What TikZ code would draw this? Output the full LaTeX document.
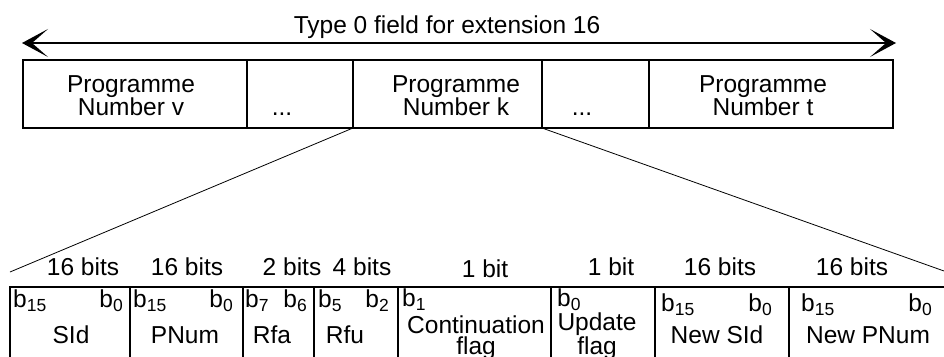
\documentclass[tikz,border=0pt]{standalone}
\usepackage{fontspec}
\setmainfont{Liberation Sans}
\usetikzlibrary{arrows.meta}

% bit number with lowered index
\newcommand\bsub[1]{b\raisebox{-4.5pt}{\fontsize{17.5}{17.5}\selectfont #1}}

\begin{document}
\begin{tikzpicture}[x=1pt, y=-1pt,
    cell/.style={draw, line width=1.8pt, inner sep=0pt, outer sep=0pt, anchor=north west},
    txt/.style={font=\fontsize{24.5}{23}\selectfont, inner sep=0pt, align=center, anchor=base},
    flagtxt/.style={txt, font=\fontsize{24.5}{21}\selectfont},
    span/.style={line width=1.8pt,
        {Stealth[length=26pt, width=28pt, inset=16pt]}-{Stealth[length=26pt, width=28pt, inset=16pt]}},
    fan/.style={line width=0.8pt}]

% Canvas
\useasboundingbox (0,0) rectangle (944,356);
\clip (0,0) rectangle (944,356);

\def\toprow{60}
\def\topht{68}
\def\botrow{287}
\def\botht{100}

% Span arrow with title
\coordinate (spanl) at (22,43);
\coordinate (spanr) at (896,43);
\draw[span] (spanl) -- (spanr);
\node[txt] (title) at (447,33) {Type 0 field for extension 16};

% Top row -- programme number fields
\node[cell, minimum width=224, minimum height=\topht] (pv) at (23,\toprow) {};
\node[cell, minimum width=106, minimum height=\topht] (dv) at (247,\toprow) {};
\node[cell, minimum width=189, minimum height=\topht] (pk) at (353,\toprow) {};
\node[cell, minimum width=107, minimum height=\topht] (dk) at (542,\toprow) {};
\node[cell, minimum width=244, minimum height=\topht] (pt) at (649,\toprow) {};

% (base of a two-line node = its last line)
\node[txt] (pvtxt) at (131,115) {Programme\\Number v};
\node[txt] (dvtxt) at (282,115) {...};
\node[txt] (pktxt) at (456,115) {Programme\\Number k};
\node[txt] (dktxt) at (582,115) {...};
\node[txt] (pttxt) at (763,115) {Programme\\Number t};

% Fan-out from Programme Number k
\coordinate (fanl) at (10,272);
\coordinate (fanr) at (944,271);
\draw[fan] (pk.south west) -- (fanl);
\draw[fan] (pk.south east) -- (fanr);

% Bottom row -- fields of one programme number
\node[cell, minimum width=120, minimum height=\botht] (sid) at (10,\botrow) {};
\node[cell, minimum width=113, minimum height=\botht] (pnum) at (130,\botrow) {};
\node[cell, minimum width=71,  minimum height=\botht] (rfa) at (243,\botrow) {};
\node[cell, minimum width=84,  minimum height=\botht] (rfu) at (314,\botrow) {};
\node[cell, minimum width=153, minimum height=\botht] (cont) at (398,\botrow) {};
\node[cell, minimum width=104, minimum height=\botht] (upd) at (551,\botrow) {};
\node[cell, minimum width=134, minimum height=\botht] (nsid) at (655,\botrow) {};
\node[cell, minimum width=200, minimum height=\botht] (npnum) at (789,\botrow) {};

% Field sizes
\node[txt] (wsid) at (83,275) {16 bits};
\node[txt] (wpnum) at (187,275) {16 bits};
\node[txt] (wrfa) at (292,275) {2 bits};
\node[txt] (wrfu) at (362,275) {4 bits};
\node[txt] (wcont) at (485,277) {1 bit};
\node[txt] (wupd) at (611,275) {1 bit};
\node[txt] (wnsid) at (720,275) {16 bits};
\node[txt] (wnpnum) at (852,275) {16 bits};

% Bit numbers
\node[txt, anchor=base west] (sidhi) at (13,307) {\bsub{15}};
\node[txt, anchor=base east] (sidlo) at (123,307) {\bsub{0}};
\node[txt, anchor=base west] (pnumhi) at (133,307) {\bsub{15}};
\node[txt, anchor=base east] (pnumlo) at (233,307) {\bsub{0}};
\node[txt, anchor=base west] (rfahi) at (245,307) {\bsub{7}};
\node[txt, anchor=base east] (rfalo) at (307,307) {\bsub{6}};
\node[txt, anchor=base west] (rfuhi) at (318,307) {\bsub{5}};
\node[txt, anchor=base east] (rfulo) at (389,307) {\bsub{2}};
\node[txt, anchor=base west] (contbit) at (402,306) {\bsub{1}};
\node[txt, anchor=base west] (updbit) at (557,306) {\bsub{0}};
\node[txt, anchor=base west] (nsidhi) at (661,311) {\bsub{15}};
\node[txt, anchor=base east] (nsidlo) at (772,311) {\bsub{0}};
\node[txt, anchor=base west] (npnumhi) at (801,311) {\bsub{15}};
\node[txt, anchor=base east] (npnumlo) at (932,311) {\bsub{0}};

% Field names
\node[txt] (sidname) at (71,343) {SId};
\node[txt] (pnumname) at (185,343) {PNum};
\node[txt] (rfaname) at (272,343) {Rfa};
\node[txt] (rfuname) at (345,343) {Rfu};
\node[flagtxt] (contname) at (476,354) {Continuation\\flag};
\node[flagtxt] (updname) at (597,354) {Update\\flag};
\node[txt] (nsidname) at (717,343) {New SId};
\node[txt] (npnumname) at (868,343) {New PNum};

\end{tikzpicture}
\end{document}
